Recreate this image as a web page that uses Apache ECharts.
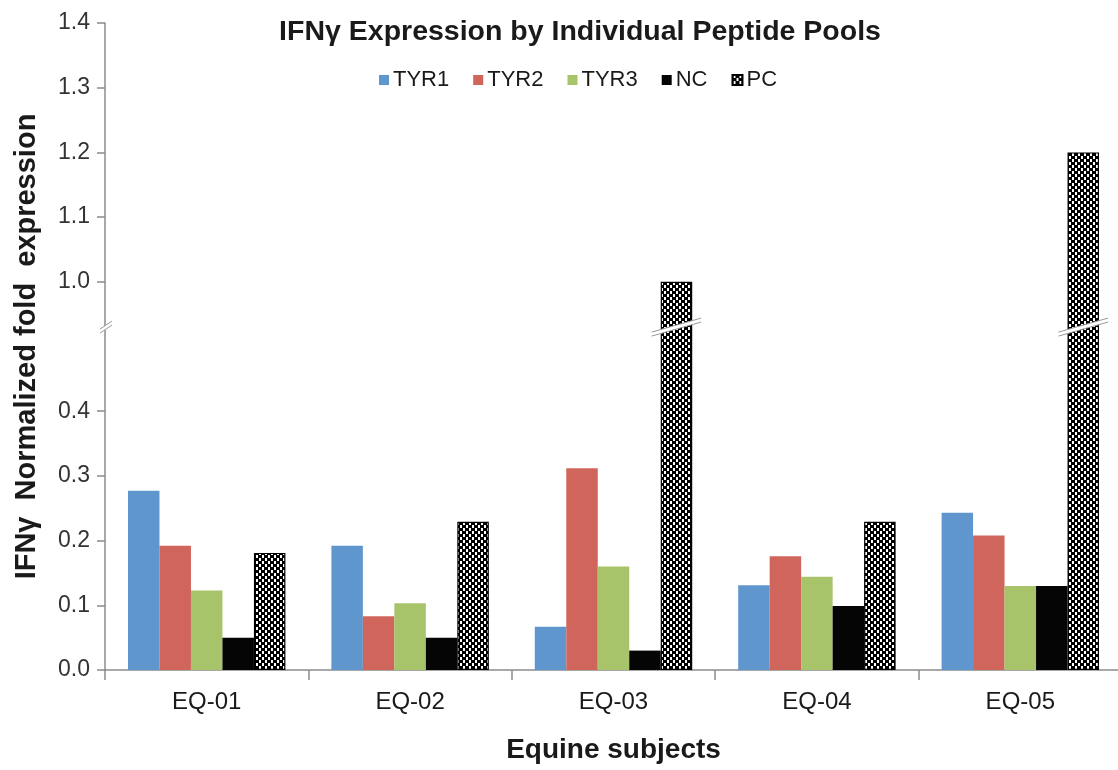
<!DOCTYPE html>
<html><head><meta charset="utf-8">
<script src="https://cdn.jsdelivr.net/npm/echarts@6/dist/echarts.min.js"></script>
<style>html,body{margin:0;padding:0;background:#fff}#c{width:1118px;height:770px}</style>
</head><body><div id="c"></div>
<script>
const categories = ['EQ-01','EQ-02','EQ-03','EQ-04','EQ-05'];
const seriesNames = ['TYR1','TYR2','TYR3','NC','PC'];
const tyr1 = [0.277, 0.192, 0.067, 0.131, 0.243];
const tyr2 = [0.192, 0.083, 0.312, 0.176, 0.208];
const tyr3 = [0.123, 0.103, 0.160, 0.144, 0.130];
const nc   = [0.050, 0.050, 0.030, 0.099, 0.130];
const pc   = [0.181, 0.229, 1.000, 0.229, 1.200];
const tickValues = [0.0, 0.1, 0.2, 0.3, 0.4, 1.0, 1.1, 1.2, 1.3, 1.4];
const tickLabels = ['0.0','0.1','0.2','0.3','0.4','1.0','1.1','1.2','1.3','1.4'];
// axis break: values between breakLow and breakHigh are removed from the scale
const breakLow = 0.5, breakHigh = 0.9;

function tf(v){ return +(v <= breakLow ? v : (v >= breakHigh ? v - (breakHigh - breakLow) : breakLow)).toFixed(6); }
const tickPos = tickValues.map(tf);
const labelMap = {};
tickPos.forEach((p,i)=>{ labelMap[p.toFixed(2)] = tickLabels[i]; });
const breakPos = breakLow + 0.03; // drawn position of the break marker (transformed)

const colors = ['#5f96cd','#d0655c','#a8c46a','#050505'];
const pat = document.createElement('canvas');
pat.width = 6; pat.height = 6;
const pc2 = pat.getContext('2d');
pc2.fillStyle = '#000'; pc2.fillRect(0,0,6,6);
pc2.fillStyle = '#fff'; pc2.fillRect(1,0,2,3); pc2.fillRect(4,3,2,3);

const BAR_GAP_PCT = 22.6;
const raw = [tyr1, tyr2, tyr3, nc, pc];
const series = raw.map((arr, i) => ({
  name: seriesNames[i], type: 'bar', barGap: 0, barCategoryGap: BAR_GAP_PCT + '%',
  data: arr.map(tf),
  itemStyle: i < 4 ? {color: colors[i]} : {color: {image: pat, repeat: 'repeat'}, borderColor: '#000', borderWidth: 1.2}
}));
// break marks drawn through the library's coordinate system
const breakData = [];
pc.forEach((v, i) => { if (v >= breakHigh) breakData.push([i, breakPos]); });
series.push({
  type: 'custom', name: '_break', silent: true, z: 10, legendHoverLink: false,
  data: breakData,
  renderItem: function(params, api){
    const c = api.coord([api.value(0), api.value(1)]);
    const catW = api.size([1, 0])[0];
    const barW = catW * (1 - BAR_GAP_PCT/100) / 5;
    const cx = c[0] + 2 * barW;
    const th = 4;
    const children = [];
    function band(x, hw, ddy){
      children.push({type:'polygon', shape:{points:[[x-hw, c[1]+ddy+th/2],[x+hw, c[1]-ddy+th/2],[x+hw, c[1]-ddy-th/2],[x-hw, c[1]+ddy-th/2]]}, style:{fill:'#fff', stroke:null}});
      children.push({type:'line', shape:{x1:x-hw,y1:c[1]+ddy+th/2,x2:x+hw,y2:c[1]-ddy+th/2}, style:{stroke:'#999', lineWidth:1}});
      children.push({type:'line', shape:{x1:x-hw,y1:c[1]+ddy-th/2,x2:x+hw,y2:c[1]-ddy-th/2}, style:{stroke:'#999', lineWidth:1}});
    }
    band(cx, barW/2 + 9, 7);
    if (params.dataIndex === 0) band(params.coordSys.x + 1, 6, 4);
    return {type:'group', children: children};
  }
});

const chart = echarts.init(document.getElementById('c'), null, {renderer:'canvas'});
const FONT = 'Liberation Sans, Arial, sans-serif';
chart.setOption({
  animation: false,
  title: {text: 'IFNγ Expression by Individual Peptide Pools', left: 575, top: 13, textAlign: 'center',
    textStyle: {fontFamily: FONT, fontSize: 28.5, fontWeight: 'bold', color: '#1a1a1a'}},
  legend: {data: seriesNames, left: 374, top: 64, itemWidth: 10, itemHeight: 10, itemGap: 24, icon: 'rect',
    textStyle: {fontFamily: FONT, fontSize: 22, color: '#1a1a1a', padding: [0,0,0,-1]}},
  grid: {left: 105, top: 23, width: 1017, height: 647, containLabel: false, outerBoundsMode: 'none'},
  xAxis: {type: 'category', data: categories,
    axisLine: {lineStyle: {color: '#8c8c8c', width: 1.5}},
    axisTick: {show: true, length: 10, lineStyle: {color: '#8c8c8c', width: 1.5}},
    axisLabel: {fontFamily: FONT, fontSize: 24, color: '#1a1a1a', margin: 20},
    name: 'Equine subjects', nameLocation: 'middle', nameGap: 66,
    nameTextStyle: {fontFamily: FONT, fontSize: 28, fontWeight: 'bold', color: '#1a1a1a'}},
  yAxis: {type: 'value', min: 0, max: tf(1.4), interval: 0.1,
    splitLine: {show: false},
    axisLine: {show: true, lineStyle: {color: '#8c8c8c', width: 1.5}},
    axisTick: {show: true, length: 8, lineStyle: {color: '#8c8c8c', width: 1.5}, customValues: tickPos},
    axisLabel: {fontFamily: FONT, fontSize: 23, color: '#333', margin: 15, customValues: tickPos,
      formatter: v => labelMap[(+v).toFixed(2)] || ''},
    name: 'IFNγ  Normalized fold  expression', nameLocation: 'middle', nameGap: 64,
    nameTextStyle: {fontFamily: FONT, fontSize: 29, fontWeight: 'bold', color: '#1a1a1a'}},
  series: series
});
</script></body></html>
